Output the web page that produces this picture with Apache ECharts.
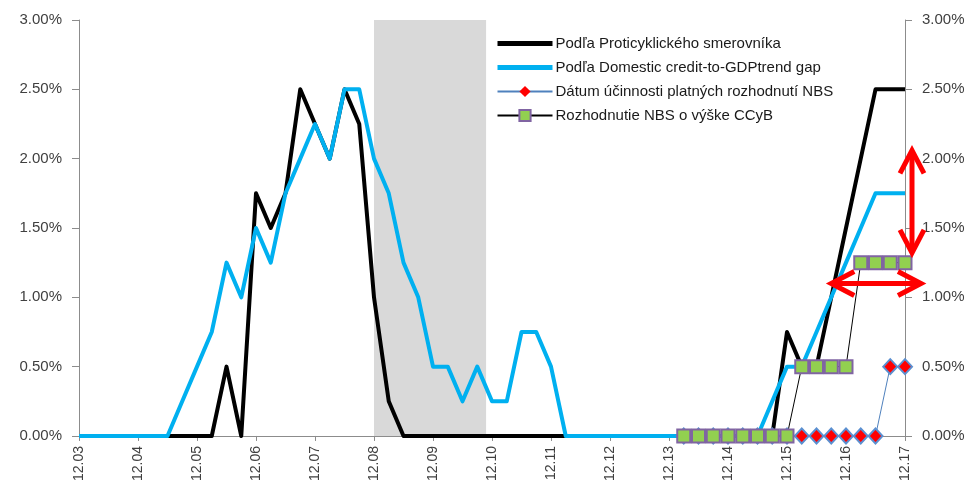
<!DOCTYPE html>
<html>
<head>
<meta charset="utf-8">
<script src="https://cdn.jsdelivr.net/npm/echarts@6/dist/echarts.min.js"></script>
<style>html,body{margin:0;padding:0;background:#fff;}#c{width:969px;height:484px;}</style>
</head>
<body>
<div id="c"></div>
<script>
// Quarterly categories 12.03 .. 12.17
var categories = [
 '12.03','03.04','06.04','09.04','12.04','03.05','06.05','09.05','12.05','03.06','06.06','09.06','12.06',
 '03.07','06.07','09.07','12.07','03.08','06.08','09.08','12.08','03.09','06.09','09.09','12.09',
 '03.10','06.10','09.10','12.10','03.11','06.11','09.11','12.11','03.12','06.12','09.12','12.12',
 '03.13','06.13','09.13','12.13','03.14','06.14','09.14','12.14','03.15','06.15','09.15','12.15',
 '03.16','06.16','09.16','12.16','03.17','06.17','09.17','12.17'
];
var seriesNames = [
 'Podľa Proticyklického smerovníka',
 'Podľa Domestic credit-to-GDPtrend gap',
 'Dátum účinnosti platných rozhodnutí NBS',
 'Rozhodnutie NBS o výške CCyB'
];
var proticyklicky = [
 0,0,0,0,0,0,0,0,0,0,
 0.5,0,1.75,1.5,1.75,2.5,2.25,2.0,2.5,2.25,1.0,0.25,
 0,0,0,0,0,0,0,0,0,0,0,0,0,0,0,0,0,0,0,0,0,0,0,0,0,0,
 0.75,0.5,0.5,1.0,1.5,2.0,2.5,2.5,2.5
];
var creditGap = [
 0,0,0,0,0,0,0,
 0.25,0.5,0.75,1.25,1.0,1.5,1.25,1.75,2.0,2.25,2.0,2.5,2.5,2.0,1.75,1.25,1.0,0.5,0.5,0.25,0.5,0.25,0.25,0.75,0.75,0.5,
 0,0,0,0,0,0,0,0,0,0,0,0,0,0,
 0.25,0.5,0.5,0.75,1.0,1.25,1.5,1.75,1.75,1.75
];
var datumUcinnosti = [
 null,null,null,null,null,null,null,null,null,null,null,null,null,null,null,null,null,null,null,null,
 null,null,null,null,null,null,null,null,null,null,null,null,null,null,null,null,null,null,null,null,null,
 0,0,0,0,0,0,0,0,0,0,0,0,0,0,0.5,0.5
];
var rozhodnutie = [
 null,null,null,null,null,null,null,null,null,null,null,null,null,null,null,null,null,null,null,null,
 null,null,null,null,null,null,null,null,null,null,null,null,null,null,null,null,null,null,null,null,null,
 0,0,0,0,0,0,0,0,0.5,0.5,0.5,0.5,1.25,1.25,1.25,1.25
];
var yTicks = [0, 0.5, 1, 1.5, 2, 2.5, 3];
// shaded period in quarter-index units
var shadedPeriod = [20, 27.6];
// annotation arrows (values in % on y axis)
var arrowVertical = [2.06, 1.32];
var arrowHorizontal = { fromCategory: '09.16', y: 1.1 };

var chart = echarts.init(document.getElementById('c'), null, {renderer: 'canvas'});
var txt = '#404040';
var axisCol = '#8C8C8C';
var font = 'Liberation Sans, Arial, sans-serif';

function yAxisCfg(pos) {
  return {
    type: 'value', position: pos, min: yTicks[0], max: yTicks[yTicks.length - 1], interval: 0.5,
    axisLine: {show: true, lineStyle: {color: axisCol, width: 1}},
    axisTick: {show: true, inside: false, length: 7, lineStyle: {color: axisCol}},
    splitLine: {show: false},
    axisLabel: {color: txt, fontSize: 15, fontFamily: font, margin: 17,
      formatter: function (v) { return v.toFixed(2) + '%'; }}
  };
}

var option = {
  animation: false,
  backgroundColor: '#fff',
  grid: {left: 79, right: 64, top: 20, bottom: 48},
  legend: {
    orient: 'vertical', left: 490, top: 31, itemWidth: 55, itemHeight: 14, itemGap: 9,
    textStyle: {color: '#1a1a1a', fontSize: 15, fontFamily: font, padding: [0, 0, 0, -2]},
    data: [
      {name: seriesNames[0], lineStyle: {width: 5}, itemStyle: {opacity: 0}},
      {name: seriesNames[1], lineStyle: {width: 5}, itemStyle: {opacity: 0}},
      {name: seriesNames[2], itemStyle: {borderWidth: 0}},
      {name: seriesNames[3]}
    ]
  },
  xAxis: [{
    type: 'category', data: categories, boundaryGap: false,
    axisLine: {lineStyle: {color: axisCol, width: 1}},
    axisTick: {show: true, interval: 3, length: 5, lineStyle: {color: axisCol}},
    axisLabel: {interval: 3, rotate: 90, color: txt, fontSize: 14, fontFamily: font, margin: 10},
    splitLine: {show: false}
  }, {
    type: 'value', min: 0, max: categories.length - 1, show: false
  }],
  yAxis: [yAxisCfg('left'), yAxisCfg('right')],
  series: [
    {
      name: 'shade', type: 'line', xAxisIndex: 1, yAxisIndex: 0, data: [], silent: true,
      markArea: {silent: true, itemStyle: {color: '#D9D9D9'},
        data: [[{xAxis: shadedPeriod[0], yAxis: 3}, {xAxis: shadedPeriod[1], yAxis: 0}]]}
    },
    {
      name: seriesNames[0], type: 'line', data: proticyklicky, symbol: 'none',
      lineStyle: {color: '#000', width: 4, join: 'round'}, itemStyle: {color: '#000'}
    },
    {
      name: seriesNames[1], type: 'line', data: creditGap, symbol: 'none',
      lineStyle: {color: '#00B0F0', width: 4, join: 'round'}, itemStyle: {color: '#00B0F0'}
    },
    {
      name: seriesNames[2], type: 'line', data: datumUcinnosti, symbol: 'diamond', symbolSize: [14, 15],
      showAllSymbol: true,
      lineStyle: {color: '#4F81BD', width: 1}, itemStyle: {color: '#FF0000', borderColor: '#5B8FD0', borderWidth: 2}
    },
    {
      name: seriesNames[3], type: 'line', data: rozhodnutie, symbol: 'rect', symbolSize: 13,
      showAllSymbol: true,
      lineStyle: {color: '#000', width: 1}, itemStyle: {color: '#92D050', borderColor: '#8064A2', borderWidth: 2}
    }
  ]
};
chart.setOption(option);

// annotation arrows
var lastX = chart.convertToPixel({xAxisIndex: 0, yAxisIndex: 0}, [categories[categories.length - 1], 0])[0];
var vTop = chart.convertToPixel({yAxisIndex: 0}, arrowVertical[0]);
var vBot = chart.convertToPixel({yAxisIndex: 0}, arrowVertical[1]);
var hFrom = chart.convertToPixel({xAxisIndex: 0, yAxisIndex: 0}, [arrowHorizontal.fromCategory, arrowHorizontal.y]);
var vx = lastX + 7;
var hx2 = lastX + 16;
var hy = hFrom[1];
var L = 23, W = 12;
var red = '#FF0000';
function pl(points) {
  return {type: 'polyline', shape: {points: points}, z: 100,
    style: {stroke: red, lineWidth: 5, fill: null, lineCap: 'butt', lineJoin: 'miter'}};
}
chart.setOption({
  graphic: [
    pl([[vx, vTop + 2], [vx, vBot - 2]]),
    pl([[vx - W, vTop + L], [vx, vTop], [vx + W, vTop + L]]),
    pl([[vx - W, vBot - L], [vx, vBot], [vx + W, vBot - L]]),
    pl([[hFrom[0] + 2, hy], [hx2 - 2, hy]]),
    pl([[hFrom[0] + L, hy - W], [hFrom[0], hy], [hFrom[0] + L, hy + W]]),
    pl([[hx2 - L, hy - W], [hx2, hy], [hx2 - L, hy + W]])
  ]
});
</script>
</body>
</html>
